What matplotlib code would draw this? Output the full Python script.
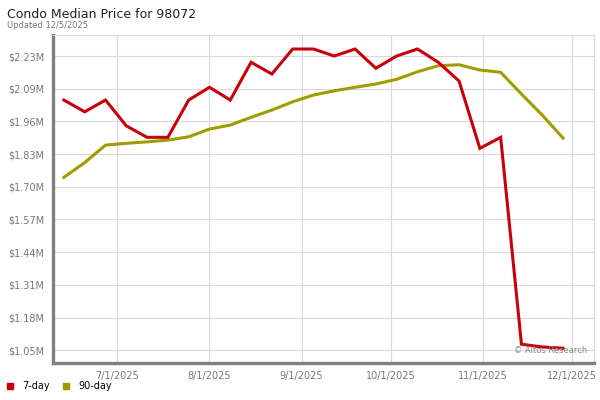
import datetime as dt
import matplotlib
matplotlib.use("Agg")
import matplotlib.pyplot as plt
import matplotlib.dates as mdates
from matplotlib.lines import Line2D
import numpy as np

dates = ["2025-06-13", "2025-06-20", "2025-06-27", "2025-07-04", "2025-07-11",
         "2025-07-18", "2025-07-25", "2025-08-01", "2025-08-08", "2025-08-15",
         "2025-08-22", "2025-08-29", "2025-09-05", "2025-09-12", "2025-09-19",
         "2025-09-26", "2025-10-03", "2025-10-10", "2025-10-17", "2025-10-24",
         "2025-10-31", "2025-11-07", "2025-11-14", "2025-11-21", "2025-11-28"]

# median price, $M
day7 = [2.050, 2.003, 2.050, 1.947, 1.901, 1.901, 2.050, 2.101, 2.050, 2.201,
        2.154, 2.254, 2.254, 2.226, 2.254, 2.177, 2.226, 2.254, 2.201, 2.126,
        1.857, 1.901, 1.074, 1.063, 1.058]
day90 = [1.741, 1.800, 1.870, 1.877, 1.883, 1.890, 1.903, 1.934, 1.950, 1.981,
         2.010, 2.043, 2.070, 2.087, 2.101, 2.114, 2.133, 2.163, 2.187, 2.191,
         2.170, 2.161, 2.074, 1.990, 1.898]

ytick_labels = ["$1.05M", "$1.18M", "$1.31M", "$1.44M", "$1.57M",
                "$1.70M", "$1.83M", "$1.96M", "$2.09M", "$2.23M"]
ytick_vals = np.linspace(1.05, 2.226, len(ytick_labels))

red = "#c8000a"
olive = "#a09c00"
x = [dt.datetime.strptime(d, "%Y-%m-%d") for d in dates]

fig = plt.figure(figsize=(6, 4), dpi=100)
ax = fig.add_axes([53 / 600, 1 - 363 / 400, 541 / 600, 328 / 400])

ax.plot(x, day7, color=red, lw=2.2, solid_joinstyle="miter", zorder=3)
ax.plot(x, day90, color=olive, lw=2.2, zorder=2)

ax.set_xlim(dt.datetime(2025, 6, 9, 8), dt.datetime(2025, 12, 8, 10))
ax.set_ylim(0.999, 2.31)
ax.set_yticks(ytick_vals)
ax.set_yticklabels(ytick_labels)
ax.xaxis.set_major_locator(mdates.MonthLocator(bymonth=[7, 8, 9, 10, 11, 12]))
ax.xaxis.set_major_formatter(
    plt.FuncFormatter(lambda v, p: (lambda d: f"{d.month}/{d.day}/{d.year}")(mdates.num2date(v))))

ax.grid(True, color="#d9d9d9", lw=0.8)
ax.set_axisbelow(True)
ax.tick_params(length=0, labelsize=7, colors="#777777")
ax.tick_params(axis="y", pad=6)
ax.tick_params(axis="x", pad=6)
for s in ["top", "right"]:
    ax.spines[s].set_color("#d9d9d9")
    ax.spines[s].set_linewidth(0.8)
for s in ["left", "bottom"]:
    ax.spines[s].set_color("#808080")
    ax.spines[s].set_linewidth(2.4)

ax.text(0.988, 0.025, "\u00a9 Altos Research", transform=ax.transAxes,
        ha="right", va="bottom", fontsize=6, color="#888888")

fig.text(7 / 600, 1 - 18 / 400, "Condo Median Price for 98072", fontsize=9,
         color="#222222", va="baseline")
fig.text(7 / 600, 1 - 28.5 / 400, "Updated 12/5/2025", fontsize=6,
         color="#777777", va="baseline")

handles = [Line2D([], [], ls="none", marker="s", ms=5, color=red),
           Line2D([], [], ls="none", marker="s", ms=5, color=olive)]
fig.legend(handles, ["7-day", "90-day"], loc="center left",
           bbox_to_anchor=(2 / 600, 1 - 386 / 400), ncol=2, frameon=False,
           fontsize=7, handlelength=1, handletextpad=0.8, columnspacing=1.1,
           borderaxespad=0, borderpad=0.3)

fig.savefig("out.png", dpi=100)
